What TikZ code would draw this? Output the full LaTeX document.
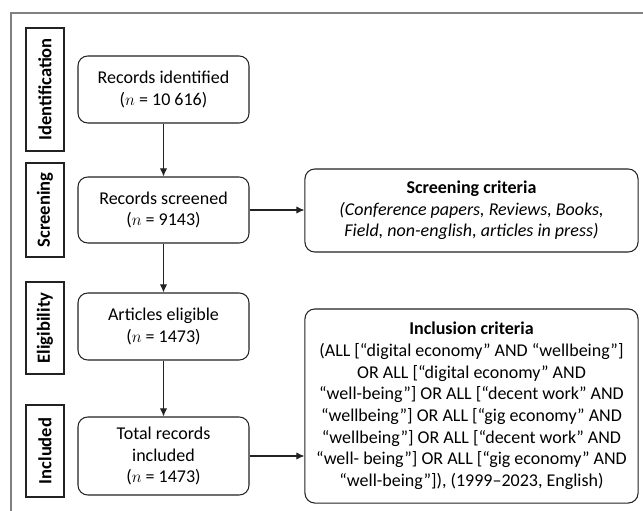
\documentclass[tikz,border=0pt]{standalone}
\usepackage{fontspec}
\setmainfont{Carlito}
\usetikzlibrary{arrows.meta,positioning,calc}
\definecolor{cFrame}{HTML}{808080}
\definecolor{cLine}{HTML}{222222}

\begin{document}
\begin{tikzpicture}[
  x=0.025cm, y=-0.025cm,
  font=\fontsize{12.8}{15.4}\selectfont,
  % -- styles: stage tags left, flow boxes middle, criteria boxes right --
  stage/.style={draw=cLine, line width=0.9pt, rotate=90, font=\fontsize{13.2}{15}\selectfont\bfseries,
                minimum height=0.95cm, inner sep=1pt},
  flow/.style={draw=cLine, line width=0.75pt, rounded corners=7pt, align=center,
               minimum width=4.275cm, inner sep=2pt},
  crit/.style={flow, minimum width=8.325cm},
  a/.style={-{Latex[length=2mm,width=1.8mm]}, line width=0.75pt, cLine},
]
\useasboundingbox (0,0) rectangle (643,511);
% == columns: stage x = 45 / flow x = 163.5 / criteria x = 471.5 ==
\def\cS{45}   \def\cF{163.5}   \def\cC{471.5}

% -- outer frame (top and left only) --
\draw[cFrame, line width=1pt] (643,13) -- (11,13) -- (11,511);

% -- stage tags --
\node[stage, minimum width=3.075cm] (sIdent) at (\cS,89.5) {Identification};
\node[stage, minimum width=2.35cm]  (sScreen) at (\cS,210) {Screening};
\node[stage, minimum width=2.3cm]   (sElig)  at (\cS,328) {Eligibility};
\node[stage, minimum width=2.3cm]   (sIncl)  at (\cS,451) {Included};

% -- flow --
\node[flow, minimum height=1.675cm] (ident) at (\cF,89.5)
  {Records identified\\ ($n$ = 10 616)};
\node[flow, minimum height=1.65cm] (screen) at (\cF,210)
  {Records screened\\ ($n$ = 9143)};
\node[flow, minimum height=1.675cm] (elig) at (\cF,326.5)
  {Articles eligible\\ ($n$ = 1473)};
\node[flow, minimum height=1.95cm] (total) at (\cF,456)
  {Total records\\ included\\ ($n$ = 1473)};

% -- criteria --
\node[crit, minimum height=2.075cm] (scrit) at (\cC,210.5)
  {\textbf{Screening criteria}\\ \textit{(Conference papers, Reviews, Books,}\\
   \textit{Field, non-english, articles in press)}};
\node[crit, minimum height=4.85cm] (icrit) at (\cC,406)
  {\textbf{Inclusion criteria}\\
   (ALL [“digital economy” AND “wellbeing”]\\
   OR ALL [“digital economy” AND\\
   “well-being”] OR ALL [“decent work” AND\\
   “wellbeing”] OR ALL [“gig economy” AND\\
   “wellbeing”] OR ALL [“decent work” AND\\
   “well- being”] OR ALL [“gig economy” AND\\
   “well-being”]), (1999--2023, English)};

% -- arrows --
\draw[a] (ident) -- (screen);
\draw[a] (screen) -- (elig);
\draw[a] (elig) -- (total);
\draw[a] (screen.east) -- (screen.east -| scrit.west);
\draw[a] (total.east) -- (total.east -| icrit.west);
\end{tikzpicture}
\end{document}
